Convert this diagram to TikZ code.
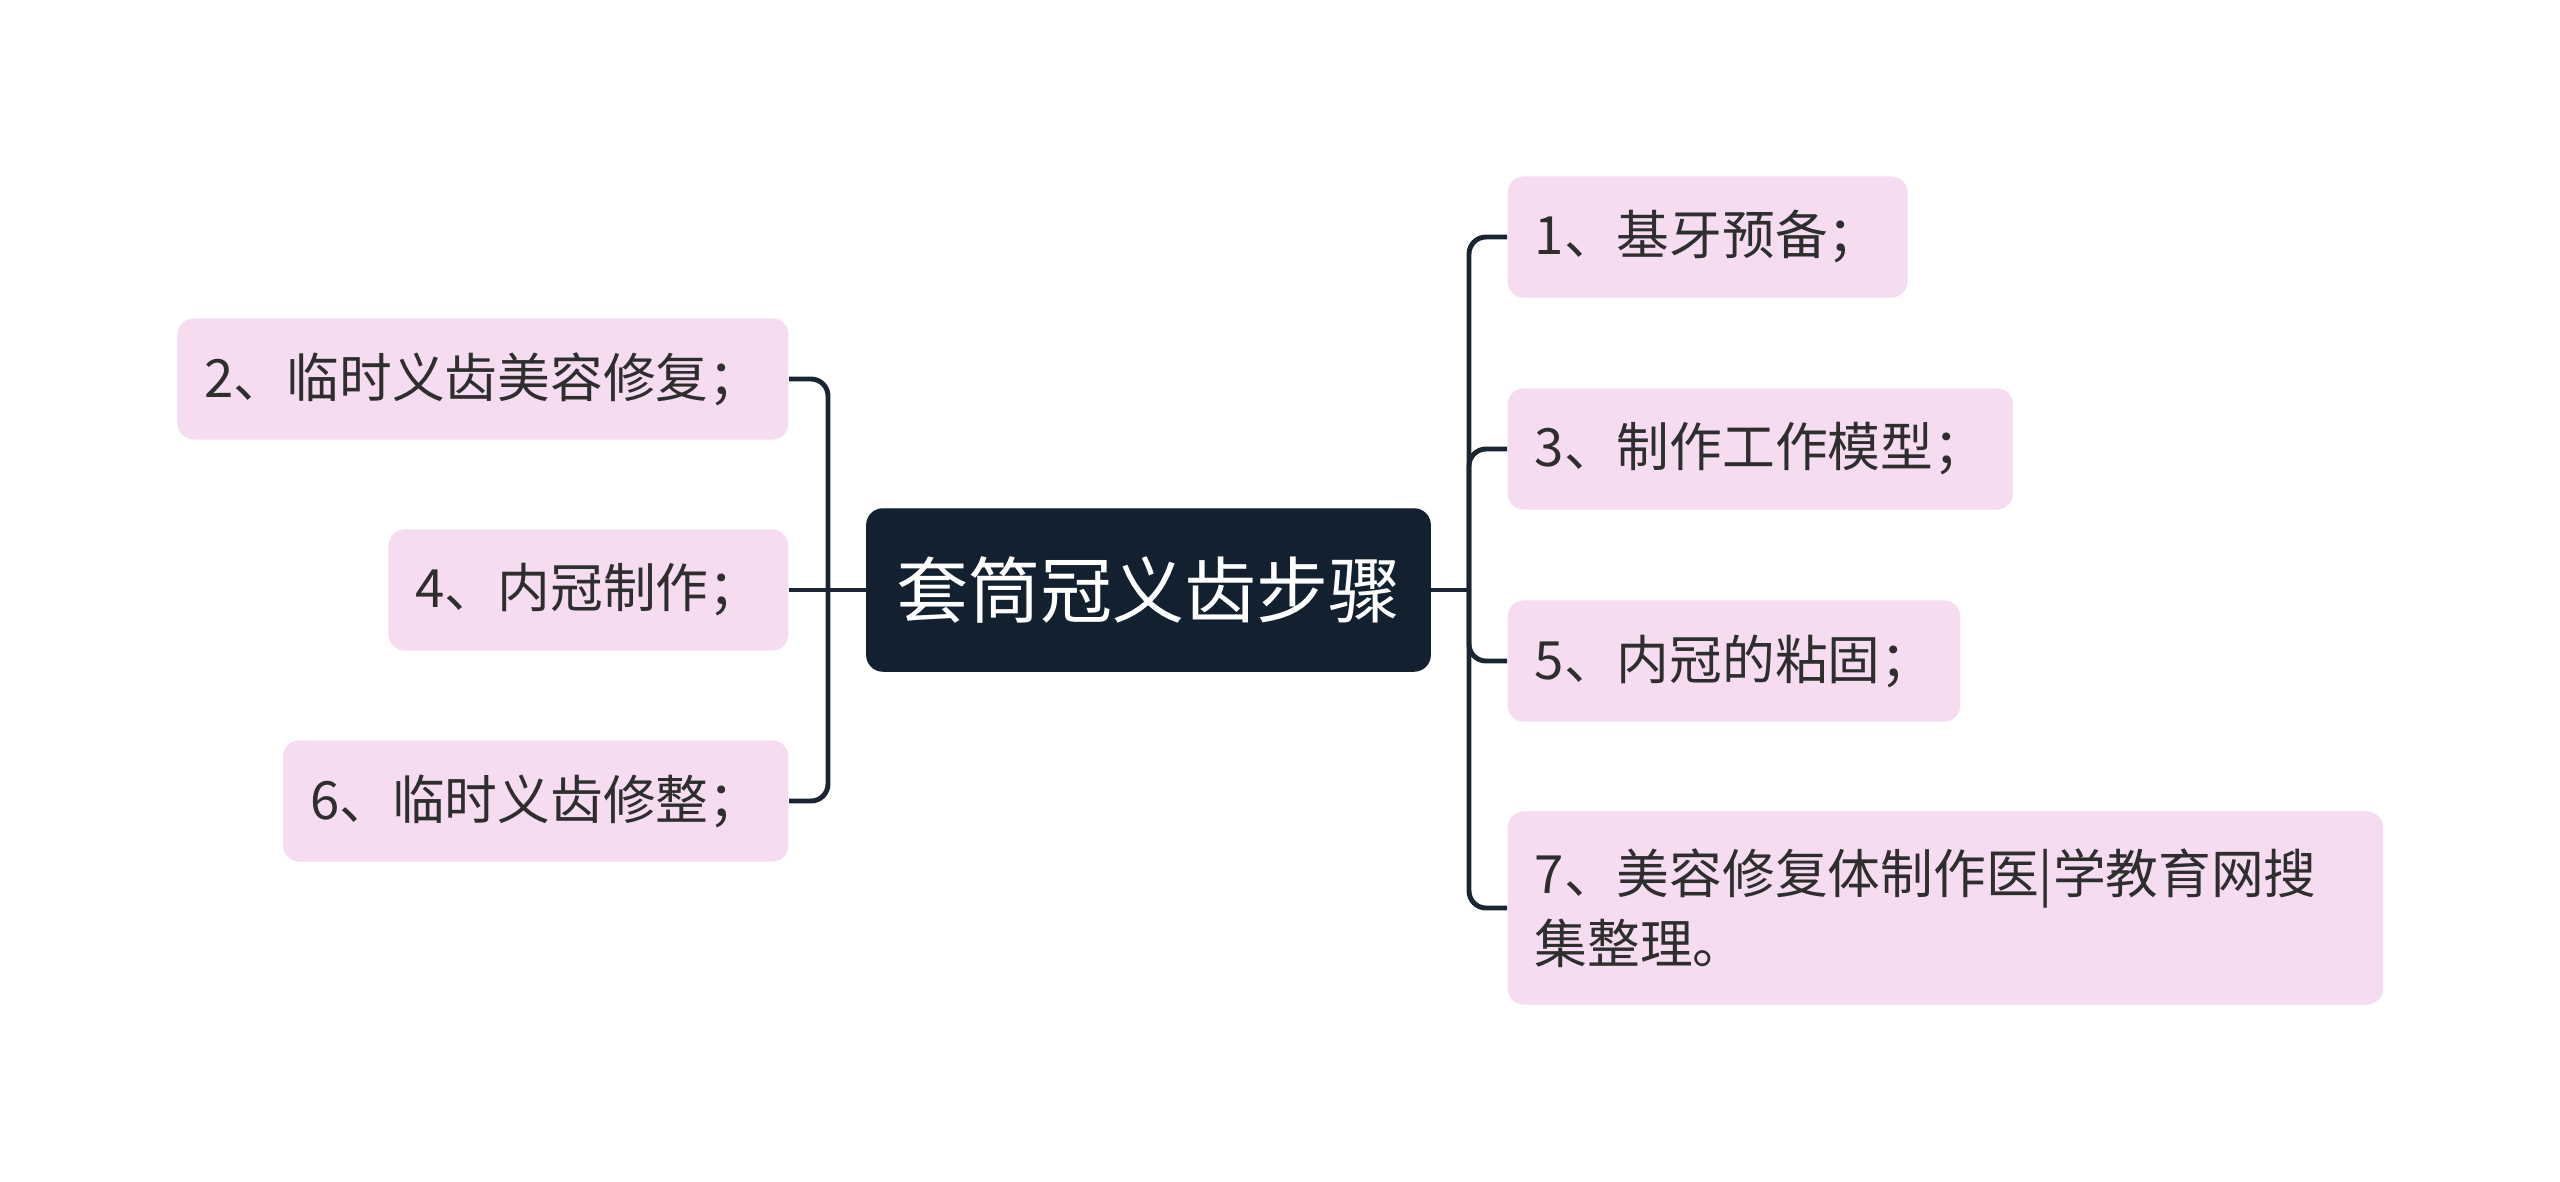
\documentclass[tikz,border=0pt]{standalone}
\usepackage{fontspec}
\setmainfont{Noto Sans CJK SC}
\begin{document}
\begin{tikzpicture}[x=0.01cm,y=-0.01cm,
  leaf/.style={fill=leafpink, rounded corners=0.16cm, text=txtgray,
    font=\fontsize{15}{20}\selectfont, inner xsep=0.27cm, inner ysep=0.1cm,
    minimum height=1.21cm, align=left},
  rootbox/.style={fill=rootnavy, draw=rootnavy, rounded corners=0.16cm, text=white,
    font=\fontsize{20.5}{24}\selectfont, minimum width=5.63cm, minimum height=1.62cm},
  link/.style={draw=linenavy, line width=1.4pt, rounded corners=0.17cm}]
\definecolor{leafpink}{HTML}{F5DCF0}
\definecolor{txtgray}{HTML}{2E2E2E}
\definecolor{rootnavy}{HTML}{132030}
\definecolor{linenavy}{HTML}{1B2433}
\useasboundingbox (0,0) rectangle (2560,1182);

\node[rootbox] (c) at (1148.5,590) {套筒冠义齿步骤};

\node[leaf, anchor=west] (n1) at (1507,237) {1、基牙预备；};
\node[leaf, anchor=west] (n3) at (1507,449) {3、制作工作模型；};
\node[leaf, anchor=west] (n5) at (1507,661) {5、内冠的粘固；};
\node[leaf, anchor=west, text width=8.21cm, minimum height=1.93cm] (n7) at (1507,908) {7、美容修复体制作医|学教育网搜\\集整理。};

\node[leaf, anchor=east] (n2) at (789,379) {2、临时义齿美容修复；};
\node[leaf, anchor=east] (n4) at (789,590) {4、内冠制作；};
\node[leaf, anchor=east] (n6) at (789,801) {6、临时义齿修整；};

\coordinate (rj) at (1469,590);
\coordinate (lj) at (828,590);

\draw[link] (c.east) -- (rj);
\draw[link] (rj) |- (n1.west);
\draw[link] (rj) |- (n3.west);
\draw[link] (rj) |- (n5.west);
\draw[link] (rj) |- (n7.west);

\draw[link] (c.west) -- (lj);
\draw[link] (lj) |- (n2.east);
\draw[link] (lj) -- (n4.east);
\draw[link] (lj) |- (n6.east);
\end{tikzpicture}
\end{document}
